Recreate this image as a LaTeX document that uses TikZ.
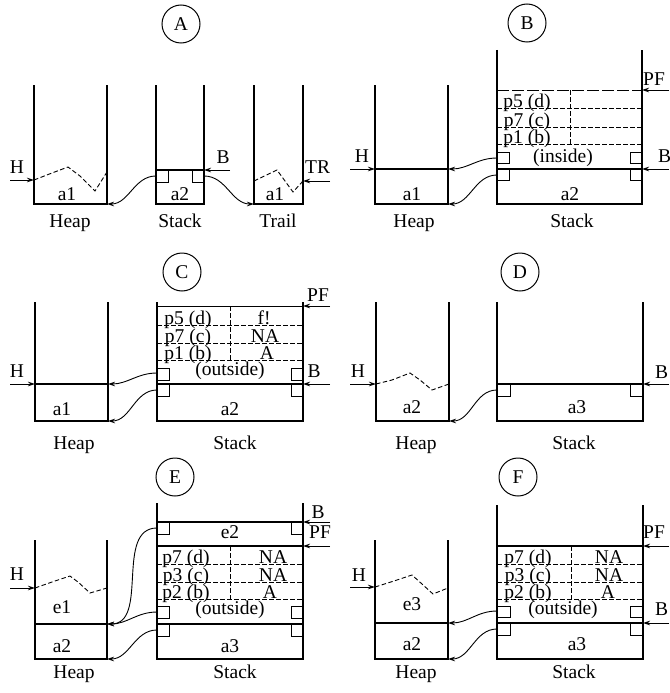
\documentclass[tikz,border=0pt]{standalone}
\usepackage{fontspec}
\setmainfont{Liberation Serif}
\usetikzlibrary{arrows.meta}
\begin{document}
\begin{tikzpicture}[x=1pt,y=-1pt,
  wall/.style={line width=1.2pt},
  thinl/.style={line width=1pt},
  dsh/.style={line width=0.9pt, dash pattern=on 4.5pt off 2.5pt},
  longdsh/.style={line width=1pt, dash pattern=on 12pt off 3pt},
  arr/.style={line width=0.9pt, -{Stealth[length=7pt,width=4.5pt]}},
  lbl/.style={font=\fontsize{19.5}{21}\selectfont, inner sep=0pt, anchor=base},
  lblw/.style={lbl, anchor=base west},
  circ/.style={draw, circle, minimum size=38pt, inner sep=0pt, line width=1pt, font=\fontsize{19.5}{21}\selectfont},
  cell/.style={draw, line width=1pt}]
\useasboundingbox (0,0) rectangle (669,693);

% ================= Panel A =================
\node[circ] (cA) at (181,24) {A};
% heap
\draw[wall] (34,85) -- (34,204) -- (107,204) -- (107,85);
\draw[dsh] (34,180) -- (52,173) -- (68,167) -- (80,176) -- (95,191) -- (107,172);
\coordinate (AHs) at (10,180); \coordinate (AHt) at (34,180);
\draw[arr] (AHs) -- (AHt);
\node[lbl] (AH) at (17,173) {H};
\node[lbl] (Aa1) at (67,200) {a1};
% stack
\draw[wall] (156,85) -- (156,204) -- (204,204) -- (204,85);
\draw[wall] (156,170) -- (204,170);
\draw[cell] (156,170) rectangle (168,182);
\draw[cell] (192,170) rectangle (204,182);
\coordinate (ABs) at (230,170); \coordinate (ABt) at (204,170);
\draw[arr] (ABs) -- (ABt);
\node[lbl] (AB) at (223,163) {B};
\node[lbl] (Aa2) at (180,200) {a2};
% trail
\draw[wall] (254,85) -- (254,204) -- (303,204) -- (303,85);
\draw[dsh] (254,181) -- (277,170) -- (293,192) -- (303,181);
\node[lbl] (Aa1t) at (275,200) {a1};
\coordinate (ATRs) at (330,181); \coordinate (ATRt) at (303,181);
\draw[arr] (ATRs) -- (ATRt);
\node[lblw] (ATR) at (305,173) {TR};
% pointers
\coordinate (As1) at (156,176); \coordinate (Ae1) at (107,204);
\draw[arr] (As1) to[out=180,in=0] (Ae1);
\coordinate (As2) at (204,176); \coordinate (Ae2) at (254,204);
\draw[arr] (As2) to[out=0,in=180] (Ae2);
\node[lbl] (AHeap) at (70,227) {Heap};
\node[lbl] (AStack) at (180,227) {Stack};
\node[lbl] (ATrail) at (278,227) {Trail};

% ================= Panel B =================
\node[circ] (cB) at (527,23) {B};
\draw[wall] (375,85) -- (375,204) -- (448,204) -- (448,85);
\draw[wall] (375,169) -- (448,169);
\coordinate (BHs) at (350,169); \coordinate (BHt) at (375,169);
\draw[arr] (BHs) -- (BHt);
\node[lbl] (BH) at (362,162) {H};
\node[lbl] (Ba1) at (412,200) {a1};
\draw[wall] (497,50) -- (497,204) -- (642,204) -- (642,50);
\draw[longdsh] (497,90) -- (642,90);
\draw[dsh] (497,108) -- (642,108);
\draw[dsh] (497,127) -- (642,127);
\draw[dsh] (497,144) -- (642,144);
\draw[dsh] (570,90) -- (570,144);
\node[lbl] (Bp5) at (527,107) {p5 (d)};
\node[lbl] (Bp7) at (527,126) {p7 (c)};
\node[lbl] (Bp1) at (527,143) {p1 (b)};
\node[lbl] (Bin) at (563,162) {(inside)};
\draw[wall] (497,169) -- (642,169);
\draw[cell] (497,152) rectangle (509,163);
\draw[cell] (630,152) rectangle (642,163);
\draw[cell] (497,169) rectangle (509,180);
\draw[cell] (630,169) rectangle (642,180);
\coordinate (BBs) at (669,169); \coordinate (BBt) at (642,169);
\draw[arr] (BBs) -- (BBt);
\node[lblw] (BB) at (658,162) {B};
\coordinate (BPs) at (669,90); \coordinate (BPt) at (642,90);
\draw[arr] (BPs) -- (BPt);
\node[lblw] (BPF) at (643,85) {PF};
\coordinate (Bs1) at (497,158); \coordinate (Be1) at (448,169);
\draw[arr] (Bs1) to[out=180,in=0] (Be1);
\coordinate (Bs2) at (497,175); \coordinate (Be2) at (448,204);
\draw[arr] (Bs2) to[out=180,in=0] (Be2);
\node[lbl] (Ba2) at (570,200) {a2};
\node[lbl] (BHeap) at (414,227) {Heap};
\node[lbl] (BStack) at (572,227) {Stack};

% ================= Panel C =================
\node[circ] (cC) at (182,272) {C};
\draw[wall] (35,302) -- (35,421) -- (108,421) -- (108,302);
\draw[wall] (35,384) -- (108,384);
\coordinate (CHs) at (10,384); \coordinate (CHt) at (35,384);
\draw[arr] (CHs) -- (CHt);
\node[lbl] (CH) at (17,377) {H};
\node[lbl] (Ca1) at (62,415) {a1};
\draw[wall] (157,302) -- (157,421) -- (303,421) -- (303,302);
\draw[thinl] (157,306) -- (303,306);
\coordinate (CPs) at (330,306); \coordinate (CPt) at (303,306);
\draw[arr] (CPs) -- (CPt);
\node[lblw] (CPF) at (307,301) {PF};
\draw[dsh] (157,325) -- (303,325);
\draw[dsh] (157,343) -- (303,343);
\draw[dsh] (157,360) -- (303,360);
\draw[dsh] (230,306) -- (230,360);
\node[lbl] (Cp5) at (188,324) {p5 (d)};
\node[lbl] (Cp7) at (188,342) {p7 (c)};
\node[lbl] (Cp1) at (188,359) {p1 (b)};
\node[lbl] (Cr1) at (264,324) {f!};
\node[lbl] (Cr2) at (265,342) {NA};
\node[lbl] (Cr3) at (267,359) {A};
\node[lbl] (Cout) at (230,375) {(outside)};
\draw[wall] (157,384) -- (303,384);
\draw[cell] (157,368) rectangle (169,380);
\draw[cell] (291,368) rectangle (303,380);
\draw[cell] (157,384) rectangle (169,396);
\draw[cell] (291,384) rectangle (303,396);
\coordinate (CBs) at (330,384); \coordinate (CBt) at (303,384);
\draw[arr] (CBs) -- (CBt);
\node[lbl] (CB) at (314,377) {B};
\coordinate (Cs1) at (157,373); \coordinate (Ce1) at (108,384);
\draw[arr] (Cs1) to[out=180,in=0] (Ce1);
\coordinate (Cs2) at (157,390); \coordinate (Ce2) at (108,421);
\draw[arr] (Cs2) to[out=180,in=0] (Ce2);
\node[lbl] (Ca2) at (230,415) {a2};
\node[lbl] (CHeap) at (74,449) {Heap};
\node[lbl] (CStack) at (235,449) {Stack};

% ================= Panel D =================
\node[circ] (cD) at (520,272) {D};
\draw[wall] (376,302) -- (376,421) -- (449,421) -- (449,302);
\draw[dsh] (376,384) -- (392,380) -- (410,373) -- (420,380) -- (432,390) -- (449,384);
\coordinate (DHs) at (350,384); \coordinate (DHt) at (376,384);
\draw[arr] (DHs) -- (DHt);
\node[lbl] (DH) at (358,377) {H};
\node[lbl] (Da2) at (412,413) {a2};
\draw[wall] (497,302) -- (497,421) -- (643,421) -- (643,302);
\draw[wall] (497,384) -- (643,384);
\draw[cell] (497,384) rectangle (510,396);
\draw[cell] (630,384) rectangle (643,396);
\coordinate (DBs) at (669,384); \coordinate (DBt) at (643,384);
\draw[arr] (DBs) -- (DBt);
\node[lblw] (DB) at (655,378) {B};
\coordinate (Ds1) at (497,390); \coordinate (De1) at (449,421);
\draw[arr] (Ds1) to[out=180,in=0] (De1);
\node[lbl] (Da3) at (577,413) {a3};
\node[lbl] (DHeap) at (416,449) {Heap};
\node[lbl] (DStack) at (574,449) {Stack};

% ================= Panel E =================
\node[circ] (cE) at (175,477) {E};
\draw[wall] (35,540) -- (35,659) -- (107,659) -- (107,540);
\draw[wall] (35,624) -- (107,624);
\draw[dsh] (35,588) -- (52,582) -- (70,576) -- (78,582) -- (90,593) -- (107,588);
\coordinate (EHs) at (10,588); \coordinate (EHt) at (35,588);
\draw[arr] (EHs) -- (EHt);
\node[lbl] (EH) at (17,580) {H};
\node[lbl] (Ee1) at (62,613) {e1};
\node[lbl] (Ea2) at (62,652) {a2};
\draw[wall] (157,503) -- (157,659) -- (303,659) -- (303,503);
\draw[wall] (157,522) -- (303,522);
\draw[cell] (157,522) rectangle (169,534);
\draw[cell] (291,522) rectangle (303,534);
\node[lbl] (Ee2) at (230,538) {e2};
\coordinate (EBs) at (330,522); \coordinate (EBt) at (303,522);
\draw[arr] (EBs) -- (EBt);
\node[lbl] (EB) at (318,518) {B};
\draw[wall] (157,546) -- (303,546);
\coordinate (EPs) at (330,546); \coordinate (EPt) at (303,546);
\draw[arr] (EPs) -- (EPt);
\node[lblw] (EPF) at (309,538) {PF};
\draw[dsh] (157,564) -- (303,564);
\draw[dsh] (157,582) -- (303,582);
\draw[dsh] (157,599) -- (303,599);
\draw[dsh] (230,546) -- (230,599);
\node[lbl] (Ep7) at (186,563) {p7 (d)};
\node[lbl] (Ep3) at (186,581) {p3 (c)};
\node[lbl] (Ep2) at (186,598) {p2 (b)};
\node[lbl] (Er1) at (273,563) {NA};
\node[lbl] (Er2) at (273,581) {NA};
\node[lbl] (Er3) at (270,598) {A};
\node[lbl] (Eout) at (230,614) {(outside)};
\draw[wall] (157,624) -- (303,624);
\draw[cell] (157,606) rectangle (169,618);
\draw[cell] (291,606) rectangle (303,618);
\draw[cell] (157,624) rectangle (169,636);
\draw[cell] (291,624) rectangle (303,636);
\coordinate (Es0) at (157,528); \coordinate (Es1) at (157,612); \coordinate (Ee1p) at (107,624);
\draw[arr] (Es0) to[out=180,in=0] (Ee1p);
\draw[arr] (Es1) to[out=180,in=0] (Ee1p);
\coordinate (Es2) at (157,630); \coordinate (Ee2p) at (107,659);
\draw[arr] (Es2) to[out=180,in=0] (Ee2p);
\node[lbl] (Ea3) at (230,652) {a3};
\node[lbl] (EHeap) at (74,678) {Heap};
\node[lbl] (EStack) at (235,678) {Stack};

% ================= Panel F =================
\node[circ] (cF) at (518,477) {F};
\draw[wall] (375,540) -- (375,659) -- (448,659) -- (448,540);
\draw[wall] (375,623) -- (448,623);
\draw[dsh] (375,587) -- (394,581) -- (412,575) -- (422,584) -- (433,594) -- (448,588);
\coordinate (FHs) at (350,587); \coordinate (FHt) at (375,587);
\draw[arr] (FHs) -- (FHt);
\node[lbl] (FH) at (359,581) {H};
\node[lbl] (Fe3) at (412,610) {e3};
\node[lbl] (Fa2) at (412,650) {a2};
\draw[wall] (497,505) -- (497,659) -- (643,659) -- (643,505);
\draw[wall] (497,546) -- (643,546);
\coordinate (FPs) at (669,546); \coordinate (FPt) at (643,546);
\draw[arr] (FPs) -- (FPt);
\node[lblw] (FPF) at (643,538) {PF};
\draw[dsh] (497,564) -- (643,564);
\draw[dsh] (497,582) -- (643,582);
\draw[dsh] (497,599) -- (643,599);
\draw[dsh] (571,546) -- (571,599);
\node[lbl] (Fp7) at (528,563) {p7 (d)};
\node[lbl] (Fp3) at (528,581) {p3 (c)};
\node[lbl] (Fp2) at (528,598) {p2 (b)};
\node[lbl] (Fr1) at (609,563) {NA};
\node[lbl] (Fr2) at (609,581) {NA};
\node[lbl] (Fr3) at (608,598) {A};
\node[lbl] (Fout) at (563,614) {(outside)};
\draw[wall] (497,623) -- (643,623);
\draw[cell] (497,606) rectangle (510,617);
\draw[cell] (630,606) rectangle (643,617);
\draw[cell] (497,623) rectangle (510,635);
\draw[cell] (630,623) rectangle (643,635);
\coordinate (FBs) at (669,623); \coordinate (FBt) at (643,623);
\draw[arr] (FBs) -- (FBt);
\node[lblw] (FB) at (655,615) {B};
\coordinate (Fs1) at (497,611); \coordinate (Fe1) at (448,623);
\draw[arr] (Fs1) to[out=180,in=0] (Fe1);
\coordinate (Fs2) at (497,629); \coordinate (Fe2) at (448,659);
\draw[arr] (Fs2) to[out=180,in=0] (Fe2);
\node[lbl] (Fa3) at (577,650) {a3};
\node[lbl] (FHeap) at (416,678) {Heap};
\node[lbl] (FStack) at (574,678) {Stack};
\end{tikzpicture}
\end{document}
